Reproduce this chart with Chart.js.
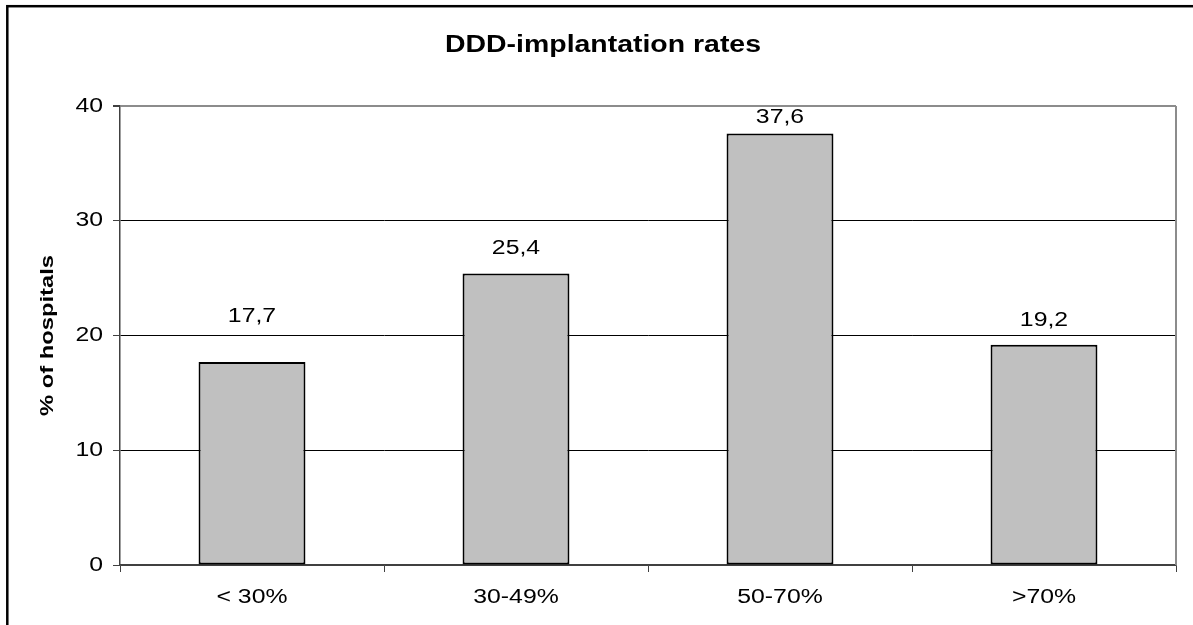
<!DOCTYPE html>
<html>
<head>
<meta charset="utf-8">
<title>DDD-implantation rates</title>
<script src="https://cdn.jsdelivr.net/npm/chart.js@4.4.1/dist/chart.umd.min.js"></script>
<style>
  html, body { margin: 0; padding: 0; background: #ffffff; }
  #wrap { width: 1193px; height: 625px; }
  canvas { display: block; }
</style>
</head>
<body>
<div id="wrap"><canvas id="chart" width="1193" height="625"></canvas></div>
<script>
// Share of hospitals by DDD-implantation rate band
const categories = ['< 30%', '30-49%', '50-70%', '>70%'];
const hospitalShare = [17.7, 25.4, 37.6, 19.2];
const yTicks = [0, 10, 20, 30, 40];

const FONT = "'Liberation Sans', Arial, Helvetica, sans-serif";

const canvas = document.getElementById('chart');
const ctx = canvas.getContext('2d');

// The chart's lettering is set wide: stretch every text run along its baseline
// around its anchor point (rotated axis title a little more).
const baseFillText = ctx.fillText;
ctx.fillText = function (text, x, y, maxWidth) {
  const m = this.getTransform();
  const k = Math.abs(m.b) > 0.5 ? 1.32 : 1.21;
  this.save();
  this.translate(x, y);
  this.scale(k, 1);
  if (maxWidth === undefined) baseFillText.call(this, text, 0, 0);
  else baseFillText.call(this, text, 0, 0, maxWidth / k);
  this.restore();
};

const formatValue = v => v.toFixed(1).replace('.', ',');

// Outer frame of the chart object and the grey right edge of the plot area
const frame = {
  id: 'frame',
  beforeDatasetsDraw(chart) {
    const { ctx: c, chartArea: a } = chart;
    c.save();
    c.strokeStyle = '#8c8c8c';
    c.lineWidth = 2;
    c.beginPath();
    c.moveTo(a.right, a.top);
    c.lineTo(a.right, a.bottom);
    c.stroke();
    c.restore();
  },
  afterDraw(chart) {
    const c = chart.ctx;
    c.save();
    c.strokeStyle = '#000000';
    c.lineWidth = 2.5;
    c.strokeRect(7.3, 6.2, chart.width + 40, chart.height + 40);
    c.restore();
  }
};

// Value labels above the bars
const valueLabels = {
  id: 'valueLabels',
  afterDatasetsDraw(chart, args, opts) {
    const meta = chart.getDatasetMeta(0);
    const values = chart.data.datasets[0].data;
    const c = chart.ctx;
    c.save();
    c.font = `20.5px ${FONT}`;
    c.fillStyle = '#000000';
    c.textAlign = 'center';
    c.textBaseline = 'middle';
    meta.data.forEach((bar, i) => {
      c.fillText(formatValue(values[i]), bar.x, bar.y - opts.lift[i]);
    });
    c.restore();
  }
};

new Chart(canvas, {
  type: 'bar',
  data: {
    labels: categories,
    datasets: [{
      data: hospitalShare,
      backgroundColor: '#c0c0c0',
      borderColor: '#000000',
      borderWidth: 2,
      borderSkipped: false,
      barPercentage: 0.405,
      categoryPercentage: 1
    }]
  },
  options: {
    responsive: false,
    animation: false,
    devicePixelRatio: 1,
    layout: { padding: { left: 30, right: 17, top: 0, bottom: 0 } },
    plugins: {
      legend: { display: false },
      tooltip: { enabled: false },
      title: {
        display: true,
        text: 'DDD-implantation rates',
        color: '#000000',
        font: { family: FONT, size: 23.5, weight: 'bold', lineHeight: 1.2 },
        padding: { top: 31, bottom: 46.8 }
      },
      valueLabels: { lift: [45.4, 25.5, 16.5, 24.2] }
    },
    scales: {
      x: {
        afterFit: s => { s.height = 60; },
        grid: {
          offset: true,
          drawOnChartArea: false,
          tickLength: 7,
          color: '#404040',
          lineWidth: 1
        },
        border: { color: '#404040', width: 1.5 },
        ticks: { color: '#000000', font: { family: FONT, size: 20.5 }, padding: 13 }
      },
      y: {
        min: 0,
        max: 40,
        afterFit: s => { s.width = 90; },
        afterBuildTicks: s => { s.ticks = yTicks.map(v => ({ value: v })); },
        grid: {
          color: c => c.tick && c.tick.value === 40 ? '#8c8c8c' : (c.tick && c.tick.value === 0 ? '#404040' : '#000000'),
          lineWidth: c => c.tick && c.tick.value === 40 ? 2 : 1,
          tickLength: 7,
          tickColor: '#404040'
        },
        border: { color: '#404040', width: 1.5 },
        ticks: { color: '#000000', font: { family: FONT, size: 20.5 }, padding: 10 },
        title: {
          display: true,
          text: '% of hospitals',
          color: '#000000',
          font: { family: FONT, size: 18, weight: 'bold', lineHeight: 1.2 },
          padding: { top: 7.5, bottom: 0 }
        }
      }
    }
  },
  plugins: [frame, valueLabels]
});
</script>
</body>
</html>
